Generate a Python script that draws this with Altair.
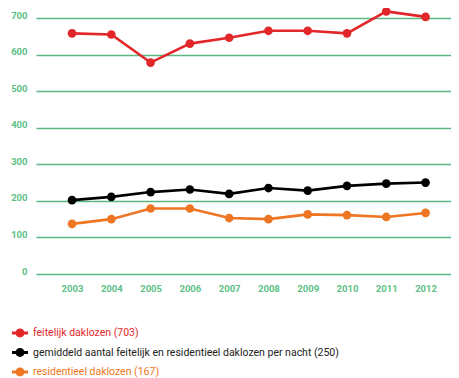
import altair as alt
import pandas as pd

years = [2003, 2004, 2005, 2006, 2007, 2008, 2009, 2010, 2011, 2012]
feitelijk = [658, 655, 578, 630, 646, 665, 665, 658, 718, 703]
gemiddeld = [202, 211, 224, 231, 219, 235, 228, 241, 247, 250]
residentieel = [137, 150, 179, 179, 153, 150, 163, 161, 156, 167]

series_names = [
    "feitelijk daklozen (703)",
    "gemiddeld aantal feitelijk en residentieel daklozen per nacht (250)",
    "residentieel daklozen (167)",
]
series_colors = ["#e2272a", "#000000", "#ee7623"]
label_colors = ["#e2272a", "#222222", "#ee7623"]
y_ticks = [0, 100, 200, 300, 400, 500, 600, 700]

rows = []
for name, vals in zip(series_names, [feitelijk, gemiddeld, residentieel]):
    for y, v in zip(years, vals):
        rows.append({"jaar": y, "aantal": v, "reeks": name})
df = pd.DataFrame(rows)

label_expr = (
    f"datum.value == '{series_names[0]}' ? '{label_colors[0]}' : "
    f"(datum.value == '{series_names[1]}' ? '{label_colors[1]}' : '{label_colors[2]}')"
)

symbol_path = (
    "M-1,-0.19 H1 V0.19 H-1 Z "
    "M0.56,0 A0.56,0.56 0 1,1 -0.56,0 A0.56,0.56 0 1,1 0.56,0 Z"
)

color = alt.Color(
    "reeks:N",
    scale=alt.Scale(domain=series_names, range=series_colors),
    sort=series_names,
    legend=alt.Legend(
        title=None,
        orient="none",
        legendX=-24,
        legendY=307,
        direction="vertical",
        symbolType=symbol_path,
        symbolSize=256,
        symbolStrokeWidth=0,
        labelFont="Roboto",
        labelFontSize=10.5,
        labelColor=alt.ExprRef(expr=label_expr),
        rowPadding=5.5,
        labelOffset=5,
        labelLimit=400,
    ),
)

x = alt.X(
    "jaar:Q",
    scale=alt.Scale(domain=[2002.083, 2012.648], nice=False, zero=False),
    axis=alt.Axis(
        title=None,
        values=years,
        format="d",
        grid=False,
        domain=False,
        ticks=False,
        labelPadding=9,
        labelColor="#5cbf86",
        labelFont="Roboto",
        labelFontWeight="bold",
        labelFontSize=9.5,
    ),
)
y = alt.Y(
    "aantal:Q",
    scale=alt.Scale(domain=[0, 700], nice=False),
    axis=alt.Axis(
        title=None,
        values=y_ticks,
        grid=True,
        gridColor="#5ab880",
        gridWidth=1.5,
        domain=False,
        ticks=False,
        labelPadding=9,
        labelBaseline="alphabetic",
        labelColor="#5cbf86",
        labelFont="Roboto",
        labelFontWeight="bold",
        labelFontSize=9.5,
    ),
)

base = alt.Chart(df).encode(x=x, y=y, color=color)
lines = base.mark_line(strokeWidth=2.6)
points = base.mark_point(filled=True, size=75, opacity=1, shape="circle")

chart = (
    alt.layer(lines, points)
    .properties(
        width=415,
        height=256,
        padding={"left": 28, "top": 10, "right": 0, "bottom": 104},
        autosize=alt.AutoSizeParams(type="none"),
    )
    .configure_view(stroke=None)
)

chart.save("out.html", embed_options={"renderer": "svg", "actions": False})
